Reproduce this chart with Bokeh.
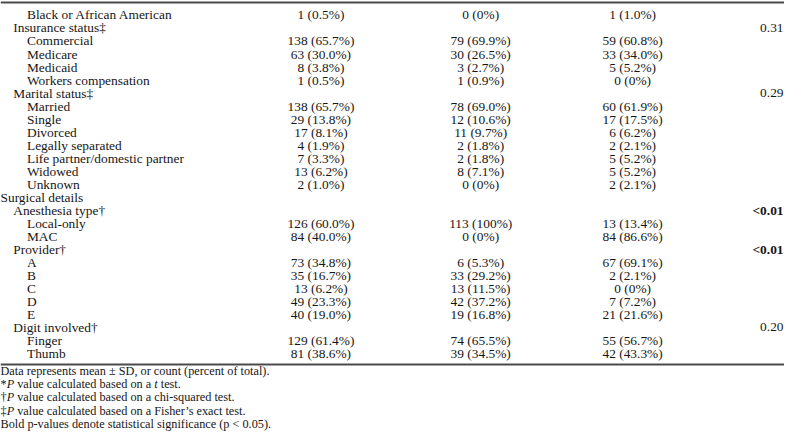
from bokeh.plotting import figure
from bokeh.models import ColumnDataSource, Range1d, Span
from bokeh.core.properties import value, field
from bokeh.embed import file_html
from bokeh.resources import INLINE

# ---------------- data ----------------
labels = [
    "Black or African American", "Insurance status\u2021", "Commercial", "Medicare",
    "Medicaid", "Workers compensation", "Marital status\u2021", "Married", "Single",
    "Divorced", "Legally separated", "Life partner/domestic partner", "Widowed",
    "Unknown", "Surgical details", "Anesthesia type\u2020", "Local-only", "MAC",
    "Provider\u2020", "A", "B", "C", "D", "E", "Digit involved\u2020", "Finger", "Thumb",
]
levels = [2, 1, 2, 2, 2, 2, 1, 2, 2, 2, 2, 2, 2, 2, 0, 1, 2, 2, 1, 2, 2, 2, 2, 2, 1, 2, 2]
all_patients = [
    "1 (0.5%)", "", "138 (65.7%)", "63 (30.0%)", "8 (3.8%)", "1 (0.5%)", "",
    "138 (65.7%)", "29 (13.8%)", "17 (8.1%)", "4 (1.9%)", "7 (3.3%)", "13 (6.2%)",
    "2 (1.0%)", "", "", "126 (60.0%)", "84 (40.0%)", "", "73 (34.8%)", "35 (16.7%)",
    "13 (6.2%)", "49 (23.3%)", "40 (19.0%)", "", "129 (61.4%)", "81 (38.6%)",
]
local_only = [
    "0 (0%)", "", "79 (69.9%)", "30 (26.5%)", "3 (2.7%)", "1 (0.9%)", "",
    "78 (69.0%)", "12 (10.6%)", "11 (9.7%)", "2 (1.8%)", "2 (1.8%)", "8 (7.1%)",
    "0 (0%)", "", "", "113 (100%)", "0 (0%)", "", "6 (5.3%)", "33 (29.2%)",
    "13 (11.5%)", "42 (37.2%)", "19 (16.8%)", "", "74 (65.5%)", "39 (34.5%)",
]
mac = [
    "1 (1.0%)", "", "59 (60.8%)", "33 (34.0%)", "5 (5.2%)", "0 (0%)", "",
    "60 (61.9%)", "17 (17.5%)", "6 (6.2%)", "2 (2.1%)", "5 (5.2%)", "5 (5.2%)",
    "2 (2.1%)", "", "", "13 (13.4%)", "84 (86.6%)", "", "67 (69.1%)", "2 (2.1%)",
    "0 (0%)", "7 (7.2%)", "21 (21.6%)", "", "55 (56.7%)", "42 (43.3%)",
]
p_values = [
    "", "0.31", "", "", "", "", "0.29", "", "", "", "", "", "", "", "", "<0.01",
    "", "", "<0.01", "", "", "", "", "", "0.20", "", "",
]
significant = [v.startswith("<") for v in p_values]

footnotes = [
    [("Data represents mean \u00b1 SD, or count (percent of total).", "normal")],
    [("*", "normal"), ("P", "italic"), (" value calculated based on a ", "normal"),
     ("t", "italic"), (" test.", "normal")],
    [("\u2020", "normal"), ("P", "italic"),
     (" value calculated based on a chi-squared test.", "normal")],
    [("\u2021", "normal"), ("P", "italic"),
     (" value calculated based on a Fisher\u2019s exact test.", "normal")],
    [("Bold p-values denote statistical significance (p < 0.05).", "normal")],
]

# ---------------- layout ----------------
W, H = 784, 431
XMAX, YMAX = 800, 447
Y0, DY = 15, 13.5
INDENT = [0, 13, 27]
COL_X = [327, 490, 645]
P_X = 799
FONT = "Liberation Serif"
BODY = "13.4px"
NOTE_PX = 12.25
NOTE_EM = NOTE_PX * XMAX / W
TXT = "#161616"

p = figure(width=W, height=H, x_range=Range1d(0, XMAX), y_range=Range1d(YMAX, 0),
           output_backend="svg", toolbar_location=None, min_border=0,
           x_axis_location=None, y_axis_location=None)
p.grid.visible = False
p.outline_line_color = None
p.background_fill_color = "white"
p.border_fill_color = "white"

ys = [Y0 + i * DY for i in range(len(labels))]
src = ColumnDataSource(dict(
    y=ys,
    lx=[INDENT[l] for l in levels],
    label=labels,
    c1=all_patients, c2=local_only, c3=mac,
    pv=p_values,
    pstyle=["bold" if s else "normal" for s in significant],
))

common = dict(source=src, y="y", text_font=value(FONT), text_font_size=value(BODY),
              text_baseline="middle", text_color=TXT)
p.text(x="lx", text="label", text_align="left", **common)
for col, cx in zip(["c1", "c2", "c3"], COL_X):
    p.text(x=cx, text=col, text_align="center", **common)
p.text(x=P_X, text="pv", text_align="right", text_font_style=field("pstyle"), **common)

# rules
top_rule = Span(location=2, dimension="width", line_color="#4a4a4a", line_width=2)
bottom_rule = Span(location=Y0 + (len(labels) - 1) * DY + 11.5, dimension="width",
                   line_color="#4a4a4a", line_width=2)
p.add_layout(top_rule)
p.add_layout(bottom_rule)

# footnotes: segments placed with Times-metric em widths (spaces = 0.25 em)
em_w = {"*": 0.5, "\u2020": 0.5, "\u2021": 0.5, "P": 0.611, "t": 0.278,
        "value calculated based on a": 10.941}
SPACE = 0.25
note_y0, note_dy = 384.5, 13.6
for i, segs in enumerate(footnotes):
    x = 0.0
    for txt, style in segs:
        core = txt.strip(" ")
        lead = len(txt) - len(txt.lstrip(" "))
        trail = len(txt) - len(txt.rstrip(" "))
        x += lead * SPACE * NOTE_EM
        p.text(x=[x], y=[note_y0 + i * note_dy], text=[core], text_font=value(FONT),
               text_font_size=value(f"{NOTE_PX}px"), text_font_style=style,
               text_baseline="middle", text_align="left", text_color=TXT)
        x += (em_w.get(core, 0) + trail * SPACE) * NOTE_EM

open("out.html", "w").write(file_html(p, INLINE))
